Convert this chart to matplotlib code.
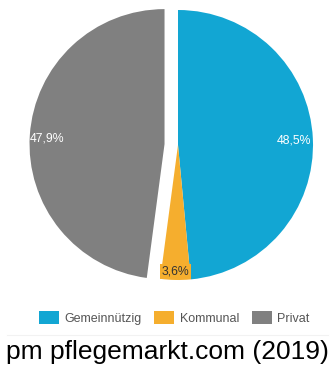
import matplotlib.pyplot as plt

plt.rcParams['font.family'] = ['Liberation Sans', 'DejaVu Sans']

labels = ['Gemeinnützig', 'Kommunal', 'Privat']
values = [48.5, 3.6, 47.9]
colors = ['#12a6d3', '#f5ae2e', '#808080']
explode = [0, 0, 0.1]

fig = plt.figure(figsize=(3.35, 3.69), dpi=100)
ax = fig.add_axes([43/335, 1 - 280/369, 270/335, 270/369])

wedges, texts = ax.pie(values, colors=colors, explode=explode, startangle=90,
                       counterclock=False, radius=1.0)
for w in wedges:
    w.set_clip_on(False)
ax.set_xlim(-1, 1)
ax.set_ylim(-1, 1)
ax.set_aspect('equal')
ax.axis('off')

# percentage labels
ax.text(0.86, 0.03, '48,5%', color='white', fontsize=8.8, ha='center', va='center')
ax.text(-0.97, 0.05, '47,9%', color='white', fontsize=8.8, ha='center', va='center')
ax.text(-0.02, -0.94, '3,6%', color='#333333', fontsize=8.8, ha='center', va='center',
        bbox=dict(boxstyle='square,pad=0.12', fc=colors[1], ec='none'))

leg = fig.legend(wedges, labels, loc='center', bbox_to_anchor=(0.52, 1 - 318/369),
                 ncol=3, frameon=False, fontsize=9, handlelength=1.6, handleheight=1.2,
                 handletextpad=0.45, columnspacing=1.0)
for t in leg.get_texts():
    t.set_color('#555555')

fig.add_artist(plt.Line2D([0.02, 0.98], [1 - 335/369, 1 - 335/369], color='#f2f2f2', lw=0.8))

fig.text(0.5, 1 - 352/369, 'pm pflegemarkt.com (2019)', fontsize=19, ha='center', va='center',
         color='black')

fig.savefig('out.png', dpi=100)
